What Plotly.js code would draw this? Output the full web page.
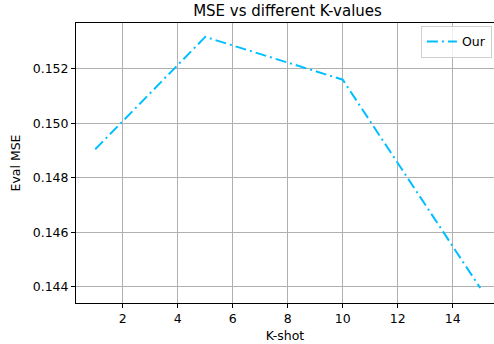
<!DOCTYPE html>
<html>
<head>
<meta charset="utf-8">
<script src="https://cdn.plot.ly/plotly-3.0.1.min.js"></script>
<style>html,body{margin:0;padding:0;overflow:hidden;background:#fff}</style>
</head>
<body>
<div id="chart" style="width:494px;height:344px"></div>
<script>
const kShot = [1, 5, 10, 15];
const evalMse = [0.14905, 0.15317, 0.15160, 0.14396];
const seriesName = "Our";
const xTicks = [2, 4, 6, 8, 10, 12, 14];
const yTicks = [0.144, 0.146, 0.148, 0.150, 0.152];

const font = {family: "DejaVu Sans, sans-serif", size: 12.5, color: "#000"};

Plotly.newPlot("chart", [{
  x: kShot, y: evalMse, name: seriesName, type: "scatter", mode: "lines",
  line: {color: "#00BFFF", width: 2, dash: "11px,4px,2px,4px"}
}], {
  width: 494, height: 344,
  margin: {l: 76, r: 0, t: 23, b: 41, pad: 0},
  paper_bgcolor: "#fff", plot_bgcolor: "#fff",
  font: font,
  title: {text: "MSE vs different K-values", font: {family: font.family, size: 15, color: "#000"},
          x: 0.582, xanchor: "center", y: 0.985, yanchor: "top"},
  xaxis: {
    range: [0.3, 15.5], tickvals: xTicks, ticktext: xTicks.map(String),
    showgrid: true, gridcolor: "#b0b0b0", gridwidth: 1,
    zeroline: false, showline: true, linecolor: "#000", linewidth: 1, mirror: true,
    ticks: "outside", ticklen: 4, tickcolor: "#000", tickfont: font,
    title: {text: "K-shot", font: font, standoff: 6}
  },
  yaxis: {
    range: [0.14341, 0.15368], tickvals: yTicks, ticktext: yTicks.map(v => v.toFixed(3)),
    showgrid: true, gridcolor: "#b0b0b0", gridwidth: 1,
    zeroline: false, showline: true, linecolor: "#000", linewidth: 1, mirror: false,
    ticks: "outside", ticklen: 4, tickcolor: "#000", tickfont: font,
    title: {text: "Eval MSE", font: font, standoff: 9}
  },
  showlegend: true,
  legend: {x: 0.995, xanchor: "right", y: 0.99, yanchor: "top",
           bgcolor: "rgba(255,255,255,0.8)", bordercolor: "#d0d0d0", borderwidth: 1,
           font: font, itemwidth: 30}
}, {displayModeBar: false, staticPlot: true});
</script>
</body>
</html>
